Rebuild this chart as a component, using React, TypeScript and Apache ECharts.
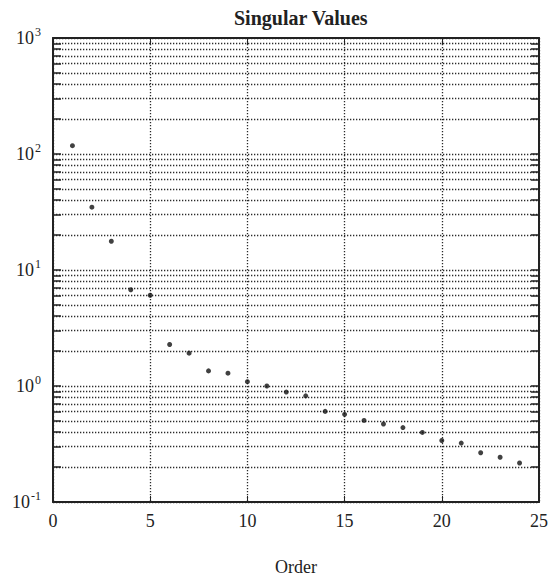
import React, { useEffect, useRef } from "react";
import * as echarts from "echarts";

const orders = [1, 2, 3, 4, 5, 6, 7, 8, 9, 10, 11, 12, 13, 14, 15, 16, 17, 18, 19, 20, 21, 22, 23, 24];
const singularValues = [
  118, 34.8, 17.7, 6.76, 6.06, 2.28, 1.92, 1.35, 1.29, 1.09, 1.0, 0.887,
  0.822, 0.604, 0.57, 0.505, 0.47, 0.438, 0.398, 0.339, 0.322, 0.266, 0.243, 0.217,
];
const xTicks = [0, 5, 10, 15, 20, 25];
const yDecades = [0.1, 1, 10, 100, 1000];

const FONT = "Liberation Serif";
const INK = "#222";

export default function App() {
  const ref = useRef<HTMLDivElement>(null);
  useEffect(() => {
    if (!ref.current) return;
    const chart = echarts.init(ref.current, null, { renderer: "svg" });
    const gridDotted = { show: true, lineStyle: { color: "#2a2a2a", width: 1.3, type: [1.3, 1.7] as any } };
    const yFormatter = (v: number) => {
      const e = Math.round(Math.log10(v));
      return `{b|10}{e|${e}}`;
    };
    const yTick = { show: true, inside: true, length: 8, lineStyle: { color: INK, width: 1.5 } };
    const yMinor = { show: true, splitNumber: 9, length: 8, lineStyle: { color: INK, width: 1.5 } };
    chart.setOption({
      animation: false,
      backgroundColor: "#fff",
      title: {
        text: "Singular Values",
        left: 229,
        top: 3,
        textStyle: { fontFamily: FONT, fontSize: 20, fontWeight: "bold", color: INK },
      },
      grid: { left: 53, right: 14, top: 38, bottom: 65, containLabel: false },
      xAxis: [
        {
          type: "value",
          min: xTicks[0],
          max: xTicks[xTicks.length - 1],
          interval: 5,
          name: "Order",
          nameLocation: "middle",
          nameGap: 56,
          nameTextStyle: { fontFamily: FONT, fontSize: 18, color: INK },
          axisLine: { show: true, onZero: false, lineStyle: { color: INK, width: 2 } },
          axisTick: { show: true, inside: true, length: 6, lineStyle: { color: INK } },
          axisLabel: { fontFamily: FONT, fontSize: 18, color: INK, margin: 10 },
          splitLine: gridDotted,
        },
        {
          type: "value",
          position: "top",
          min: xTicks[0],
          max: xTicks[xTicks.length - 1],
          interval: 5,
          axisLine: { show: true, onZero: false, lineStyle: { color: INK, width: 2 } },
          axisTick: { show: true, inside: true, length: 6, lineStyle: { color: INK } },
          axisLabel: { show: false },
          splitLine: { show: false },
        },
      ],
      yAxis: [
        {
          type: "log",
          logBase: 10,
          min: yDecades[0],
          max: yDecades[yDecades.length - 1],
          axisLine: { show: true, onZero: false, lineStyle: { color: INK, width: 2 } },
          axisTick: yTick,
          minorTick: yMinor,
          axisLabel: {
            fontFamily: FONT,
            color: INK,
            margin: 12,
            formatter: yFormatter,
            rich: {
              b: { fontFamily: FONT, fontSize: 18, color: INK },
              e: { fontFamily: FONT, fontSize: 12, color: INK, padding: [0, 0, 12, 1] },
            },
          },
          splitLine: gridDotted,
          minorSplitLine: gridDotted,
        },
        {
          type: "log",
          logBase: 10,
          position: "right",
          min: yDecades[0],
          max: yDecades[yDecades.length - 1],
          axisLine: { show: true, onZero: false, lineStyle: { color: INK, width: 2 } },
          axisTick: yTick,
          minorTick: yMinor,
          axisLabel: { show: false },
          splitLine: { show: false },
        },
      ],
      series: [
        {
          type: "scatter",
          data: orders.map((o, i) => [o, singularValues[i]]),
          symbol: "circle",
          symbolSize: 5,
          itemStyle: { color: "#111" },
        },
      ],
    });
    return () => chart.dispose();
  }, []);
  return (
    <div
      ref={ref}
      style={{ position: "absolute", left: 0, top: 0, width: 553, height: 581 }}
    />
  );
}
